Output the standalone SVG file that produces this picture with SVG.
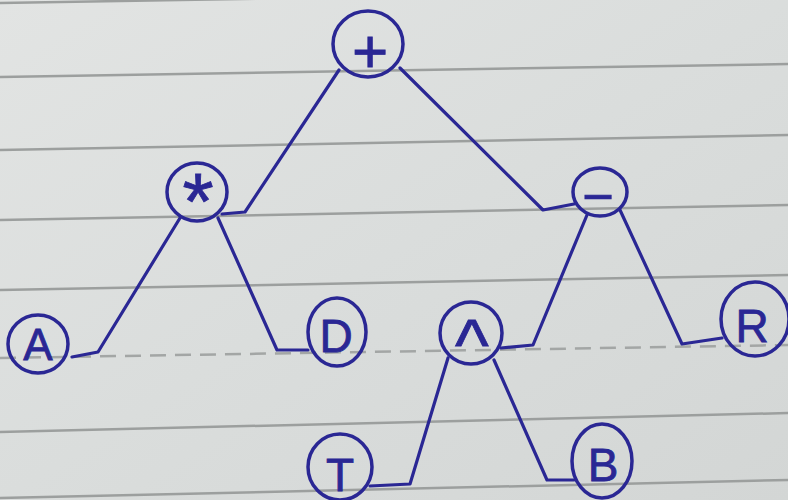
<svg xmlns="http://www.w3.org/2000/svg" width="788" height="500" viewBox="0 0 788 500">
  <defs>
    <linearGradient id="paper" x1="0" y1="0" x2="1" y2="1">
      <stop offset="0" stop-color="#e2e4e3"/>
      <stop offset="0.5" stop-color="#dadddc"/>
      <stop offset="1" stop-color="#d3d6d5"/>
    </linearGradient>
  </defs>
  <style>
    .rule { stroke: #9c9f9e; stroke-width: 2.5; fill: none; }
    .dash { stroke: #a3a6a5; stroke-width: 2.5; fill: none; stroke-dasharray: 16 9; }
    .ring { fill: none; stroke: #2a2794; stroke-width: 3.5; }
    .edge { fill: none; stroke: #2a2794; stroke-width: 3.2; stroke-linejoin: round; stroke-linecap: round; }
    .lbl { fill: #2a2794; stroke: #2a2794; stroke-width: 0.8; font-family: "Liberation Sans", "DejaVu Sans", sans-serif; text-anchor: middle; }
  </style>
  <rect width="788" height="500" fill="url(#paper)"/>
  <g id="paper-lines">
    <line class="rule" x1="0" y1="3" x2="788" y2="-10"/>
    <line class="rule" x1="0" y1="77" x2="788" y2="64"/>
    <line class="rule" x1="0" y1="150" x2="788" y2="135"/>
    <line class="rule" x1="0" y1="220" x2="788" y2="205"/>
    <line class="rule" x1="0" y1="290" x2="788" y2="275"/>
    <line class="dash" x1="0" y1="358" x2="788" y2="345"/>
    <line class="rule" x1="0" y1="432" x2="788" y2="413"/>
    <line class="rule" x1="0" y1="498" x2="788" y2="480"/>
  </g>
  <g id="connectors">
    <polyline class="edge" points="339,70 245,212 222,214"/>
    <polyline class="edge" points="400,68 543,210 574,204"/>
    <polyline class="edge" points="180,218 98,352 72,357"/>
    <polyline class="edge" points="218,218 277,350 308,350"/>
    <polyline class="edge" points="587,215 533,345 501,348"/>
    <polyline class="edge" points="620,210 682,344 722,338"/>
    <polyline class="edge" points="448,358 410,484 370,486"/>
    <polyline class="edge" points="494,360 547,480 574,480"/>
  </g>
  <g id="node-plus">
    <ellipse class="ring" cx="368" cy="44" rx="35" ry="33"/>
    <text class="lbl" x="370" y="72" font-size="62">+</text>
  </g>
  <g id="node-mul">
    <ellipse class="ring" cx="197" cy="192" rx="30" ry="29"/>
    <text class="lbl" x="198" y="229" font-size="80">*</text>
  </g>
  <g id="node-minus">
    <ellipse class="ring" cx="600" cy="192" rx="27" ry="24"/>
    <text class="lbl" x="598" y="215" font-size="54">−</text>
  </g>
  <g id="node-A">
    <ellipse class="ring" cx="38" cy="344" rx="30" ry="29"/>
    <text class="lbl" x="38" y="360" font-size="44">A</text>
  </g>
  <g id="node-D">
    <ellipse class="ring" cx="337" cy="332" rx="29" ry="34"/>
    <text class="lbl" x="336" y="352" font-size="46">D</text>
  </g>
  <g id="node-pow">
    <ellipse class="ring" cx="471" cy="333" rx="31" ry="31"/>
    <text class="lbl" x="472" y="370" font-size="72">^</text>
  </g>
  <g id="node-R">
    <ellipse class="ring" cx="755" cy="319" rx="34" ry="37"/>
    <text class="lbl" x="752" y="342" font-size="46">R</text>
  </g>
  <g id="node-T">
    <ellipse class="ring" cx="340" cy="467" rx="32" ry="33"/>
    <text class="lbl" x="340" y="491" font-size="46">T</text>
  </g>
  <g id="node-B">
    <ellipse class="ring" cx="602" cy="461" rx="30" ry="37"/>
    <text class="lbl" x="603" y="481" font-size="46">B</text>
  </g>
</svg>
